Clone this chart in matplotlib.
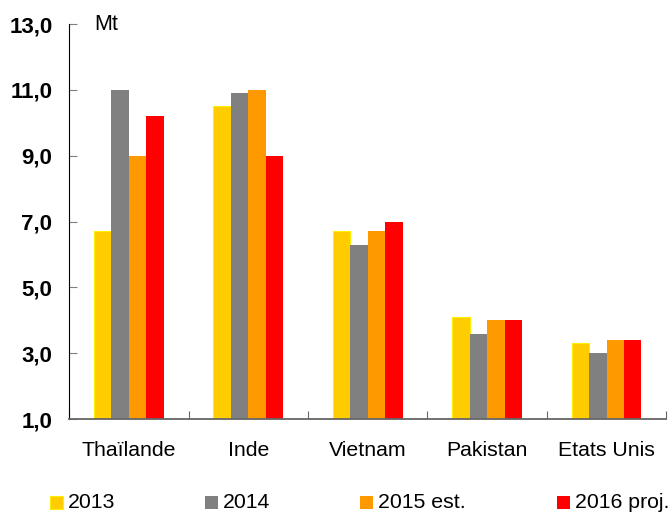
import matplotlib
matplotlib.use("Agg")
import matplotlib.pyplot as plt
from matplotlib.patches import Rectangle
import numpy as np

plt.rcParams["font.family"] = ["Liberation Sans", "DejaVu Sans"]

# data (Mt)
countries = ["Thaïlande", "Inde", "Vietnam", "Pakistan", "Etats Unis"]
series = ["2013", "2014", "2015 est.", "2016 proj."]
v2013 = [6.7, 10.5, 6.7, 4.1, 3.3]
v2014 = [11.0, 10.9, 6.3, 3.6, 3.0]
v2015 = [9.0, 11.0, 6.7, 4.0, 3.4]
v2016 = [10.2, 9.0, 7.0, 4.0, 3.4]
yticks = [1, 3, 5, 7, 9, 11, 13]

colors = ["#FFCC00", "#808080", "#FF9900", "#FF0000"]
edges = ["#FFEE00", "#808080", "#FF9900", "#FF0000"]

fig = plt.figure(figsize=(6.71, 5.13), dpi=100)
ax = fig.add_axes([0.103, 0.183, 0.890, 0.770])

x = np.arange(len(countries))
w = 0.146
for i, vals in enumerate([v2013, v2014, v2015, v2016]):
    vals = np.array(vals)
    ax.bar(x + (i - 1.5) * w, vals - 1, w, bottom=1, color=colors[i],
           edgecolor=edges[i], linewidth=0.8 if i == 0 else 0, zorder=2)

ax.set_ylim(1, 13)
ax.set_xlim(-0.5, len(countries) - 0.5)
ax.set_yticks(yticks)
ax.set_yticklabels([f"{t:.1f}".replace(".", ",") for t in yticks],
                   fontsize=16, fontweight="bold")
ax.tick_params(axis="y", direction="in", length=6, color="#808080", pad=12)

ax.set_xticks(np.arange(-0.5, len(countries)), minor=False)
ax.set_xticklabels([])
ax.tick_params(axis="x", which="major", direction="in", length=6, color="#666666")
ax.set_xticks(x, minor=True)
ax.set_xticklabels(countries, minor=True, fontsize=15.3)
ax.tick_params(axis="x", which="minor", length=0, pad=16)

for s in ["top", "right"]:
    ax.spines[s].set_visible(False)
ax.spines["left"].set_color("black")
ax.spines["bottom"].set_color("#666666")
ax.spines["bottom"].set_linewidth(1.3)

ax.text(0.042, 1.0, "Mt", transform=ax.transAxes, fontsize=15.5, va="center", ha="left")

# legend, placed by hand as in the reference
leg_x = [0.0745, 0.3055, 0.5365, 0.830]
for i, lab in enumerate(series):
    fig.add_artist(Rectangle((leg_x[i], 0.0075), 0.0194, 0.0253, transform=fig.transFigure,
                             facecolor=colors[i], edgecolor=edges[i],
                             linewidth=0.8 if i == 0 else 0))
    fig.text(leg_x[i] + 0.0268, 0.0195, lab, fontsize=15.3, va="center", ha="left")

fig.savefig("out.png", dpi=100, facecolor="white")
